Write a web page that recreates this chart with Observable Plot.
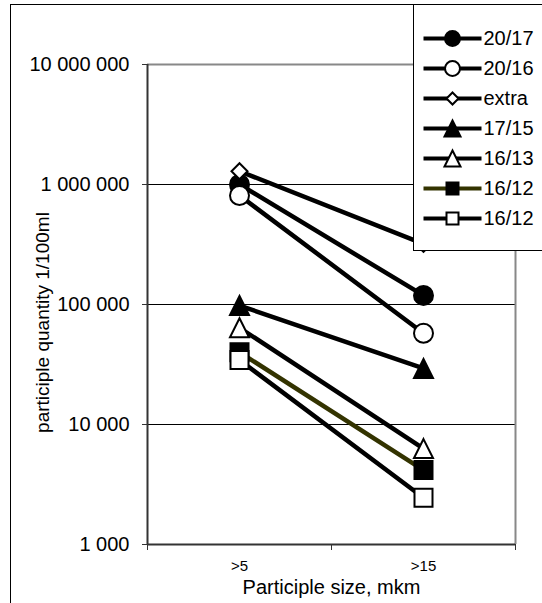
<!DOCTYPE html>
<html>
<head>
<meta charset="utf-8">
<script src="https://cdn.jsdelivr.net/npm/d3@7"></script>
<script src="https://cdn.jsdelivr.net/npm/@observablehq/plot@0.6"></script>
<style>
  html, body { margin: 0; padding: 0; background: #fff; overflow: hidden; }
  #wrap { position: relative; width: 542px; height: 603px; overflow: hidden; }
  #frame { position: absolute; left: 10px; top: 4px; width: 700px; height: 800px; border: 1px solid #000; pointer-events: none; }
  #chart { position: absolute; left: 0; top: 0; }
  #legend { position: absolute; left: 413px; top: 4px; width: 200px; height: 245px; border: 1px solid #000; background: #fff; }
  svg { font-family: "Liberation Sans", Arial, sans-serif; }
</style>
</head>
<body>
<div id="wrap">
  <div id="frame"></div>
  <div id="chart"></div>
  <div id="legend"></div>
</div>
<script>
// ---- data ----
const categories = [">5", ">15"];
const seriesNames = ["20/17", "20/16", "extra", "17/15", "16/13", "16/12", "16/12"];
const countsAbove5 = [1000000, 810000, 1290000, 98000, 64000, 40000, 34500];
const countsAbove15 = [119000, 57600, 320000, 29300, 6300, 4170, 2450];
const yTicks = [1000, 10000, 100000, 1000000, 10000000];
const gridValues = [10000, 100000, 1000000];

// ---- symbols (Excel-like markers) ----
function half(size) { return Math.sqrt(size / Math.PI); }
const squareSym = { draw(ctx, size) { const r = half(size); ctx.rect(-r, -r, 2 * r, 2 * r); } };
const triangleSym = { draw(ctx, size) { const r = half(size); ctx.moveTo(0, -r); ctx.lineTo(r, r); ctx.lineTo(-r, r); ctx.closePath(); } };
const diamondSym = { draw(ctx, size) { const r = half(size); ctx.moveTo(0, -r); ctx.lineTo(r, 0); ctx.lineTo(0, r); ctx.lineTo(-r, 0); ctx.closePath(); } };

const seriesStyles = [
  { symbol: "circle", fill: "#000", line: "#000", r: 9.5, lr: 7.5 },
  { symbol: "circle", fill: "#fff", line: "#000", r: 9.5, lr: 7.5 },
  { symbol: diamondSym, fill: "#fff", line: "#000", r: 8, lr: 6 },
  { symbol: triangleSym, fill: "#000", line: "#000", r: 9.5, lr: 8 },
  { symbol: triangleSym, fill: "#fff", line: "#000", r: 9.5, lr: 8 },
  { symbol: squareSym, fill: "#000", line: "#333300", r: 9, lr: 6 },
  { symbol: squareSym, fill: "#fff", line: "#000", r: 9, lr: 6 }
];

const rows = seriesNames.flatMap((name, i) =>
  categories.map((c, j) => ({ series: i, cat: j, value: (j === 0 ? countsAbove5 : countsAbove15)[i] }))
);

const fmt = d => d3.format(",")(d).replace(/,/g, " ");

const marks = [
  Plot.ruleY(gridValues, { stroke: "#000", strokeWidth: 1 }),
  Plot.ruleY([1e7], { stroke: "#888", strokeWidth: 2 }),
  Plot.ruleX([2], { stroke: "#888", strokeWidth: 2 }),
  Plot.axisY({ ticks: yTicks, tickFormat: fmt, tickSize: 5, tickPadding: 13, fontSize: 20, stroke: "#333", fill: "#000", label: null }),
  Plot.axisX({ ticks: [0, 1, 2], tickFormat: () => "", tickSize: 6, stroke: "#333", label: null }),
  Plot.axisX({ ticks: [0.5, 1.5], tickFormat: d => categories[Math.round(d - 0.5)], tickSize: 0, tickPadding: 16, fontSize: 15, fill: "#000", label: null }),
  Plot.ruleX([0], { stroke: "#333", strokeWidth: 2 }),
  Plot.ruleY([1000], { stroke: "#333", strokeWidth: 2 }),
  Plot.text(["Participle size, mkm"], { frameAnchor: "bottom", textAnchor: "middle", lineAnchor: "middle", dy: 43, fontSize: 20, fill: "#000" }),
  Plot.text(["participle quantity 1/100ml"], { frameAnchor: "left", textAnchor: "middle", lineAnchor: "middle", rotate: -90, dx: -105, dy: 18, fontSize: 19, fill: "#000" })
];

seriesNames.forEach((name, i) => {
  const st = seriesStyles[i];
  const data = rows.filter(d => d.series === i);
  marks.push(Plot.line(data, { x: d => d.cat + 0.5, y: "value", stroke: st.line, strokeWidth: 4.5 }));
  marks.push(Plot.dot(data, { x: d => d.cat + 0.5, y: "value", symbol: st.symbol, r: st.r, fill: st.fill, stroke: "#000", strokeWidth: 2 }));
});

const chart = Plot.plot({
  width: 542,
  height: 603,
  marginLeft: 147,
  marginRight: 27,
  marginTop: 64,
  marginBottom: 59,
  style: { fontFamily: "Liberation Sans, Arial, sans-serif", fontSize: "20px", background: "transparent", overflow: "visible" },
  x: { type: "linear", domain: [0, 2], label: null },
  y: { type: "log", domain: [1000, 10000000], label: null },
  marks
});
document.getElementById("chart").appendChild(chart);

// ---- legend ----
const legendRows = seriesNames.map((name, i) => ({ name, i }));
const lmarks = [];
legendRows.forEach(d => {
  const st = seriesStyles[d.i];
  lmarks.push(Plot.link([d], { x1: 9, x2: 67, y1: "i", y2: "i", stroke: st.line, strokeWidth: 4 }));
  lmarks.push(Plot.dot([d], { x: 38, y: "i", symbol: st.symbol, r: st.lr, fill: st.fill, stroke: "#000", strokeWidth: 2 }));
});
lmarks.push(Plot.text(legendRows, { x: 69, y: "i", text: "name", textAnchor: "start", fontSize: 20, fill: "#000" }));

const legend = Plot.plot({
  width: 200,
  height: 245,
  margin: 0,
  style: { fontFamily: "Liberation Sans, Arial, sans-serif", fontSize: "20px", background: "transparent" },
  x: { type: "linear", domain: [0, 200], range: [0, 200], axis: null },
  y: { type: "point", domain: d3.range(seriesNames.length), range: [17, 228], axis: null },
  marks: lmarks
});
document.getElementById("legend").appendChild(legend);
</script>
</body>
</html>
